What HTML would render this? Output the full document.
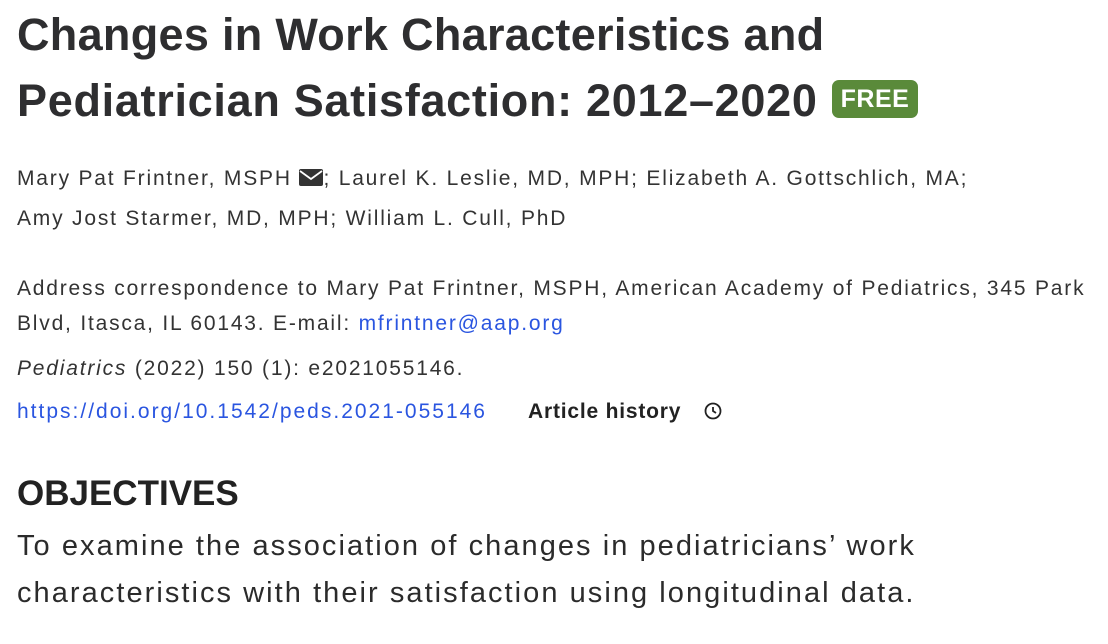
<!DOCTYPE html>
<html><head><meta charset="utf-8"><style>
html,body{margin:0;padding:0;width:1108px;height:644px;background:#fff;overflow:hidden;font-family:"Liberation Sans","DejaVu Sans",sans-serif;color:#2b2b2b}
.abs{position:absolute;white-space:nowrap}
.title{left:17px;font-weight:bold;font-size:45px;letter-spacing:0.3px;color:#2e2e30;line-height:1}
.badge{left:832px;top:80px;width:86px;height:38px;background:#5a8a3a;border-radius:7px;color:#fff;font-weight:bold;font-size:25px;line-height:38px;text-align:center;letter-spacing:0.5px}
.meta{left:17px;font-size:21px;letter-spacing:1.8px;color:#333;line-height:1}
.blue{color:#2a55e0}
.h{left:17px;font-weight:bold;font-size:35px;color:#222;line-height:1}
.body{left:17px;font-size:29px;letter-spacing:2.05px;color:#2b2b2b;line-height:1}
</style></head><body>
<div class="abs title" style="top:12px">Changes in Work Characteristics and</div>
<div class="abs title" style="top:78px;letter-spacing:0.7px">Pediatrician Satisfaction: 2012–2020</div>
<div class="abs badge">FREE</div>
<div class="abs meta" style="top:168px"><span>Mary Pat Frintner, MSPH</span> <svg width="24" height="17" viewBox="0 0 24 17" style="vertical-align:-1px"><rect x="0" y="0" width="24" height="17" rx="2" fill="#333"/><path d="M1 2 L12 10 L23 2" stroke="#fff" stroke-width="1.8" fill="none"/></svg>; <span>Laurel K. Leslie, MD, MPH</span>; <span>Elizabeth A. Gottschlich, MA</span>;</div>
<div class="abs meta" style="top:208px"><span>Amy Jost Starmer, MD, MPH</span>; <span>William L. Cull, PhD</span></div>
<div class="abs meta" style="top:278px">Address correspondence to Mary Pat Frintner, MSPH, American Academy of Pediatrics, 345 Park</div>
<div class="abs meta" style="top:313px">Blvd, Itasca, IL 60143. E-mail: <span class="blue">mfrintner@aap.org</span></div>
<div class="abs meta" style="top:358px"><i>Pediatrics</i> (2022) 150 (1): e2021055146.</div>
<div class="abs meta blue" style="top:401px;letter-spacing:2px">https://doi.org/10.1542/peds.2021-055146</div>
<div class="abs meta" style="top:401px;left:528px;font-weight:bold;color:#222;letter-spacing:0.8px">Article history <svg width="22" height="20" viewBox="0 0 22 20" style="vertical-align:-3px;margin-left:14px"><circle cx="11" cy="10" r="7.5" stroke="#222" stroke-width="1.8" fill="none"/><path d="M11 6 V10 L14 12" stroke="#222" stroke-width="1.8" fill="none"/></svg></div>
<div class="abs h" style="top:476px">OBJECTIVES</div>
<div class="abs body" style="top:532px">To examine the association of changes in pediatricians’ work</div>
<div class="abs body" style="top:579px">characteristics with their satisfaction using longitudinal data.</div>
</body></html>
